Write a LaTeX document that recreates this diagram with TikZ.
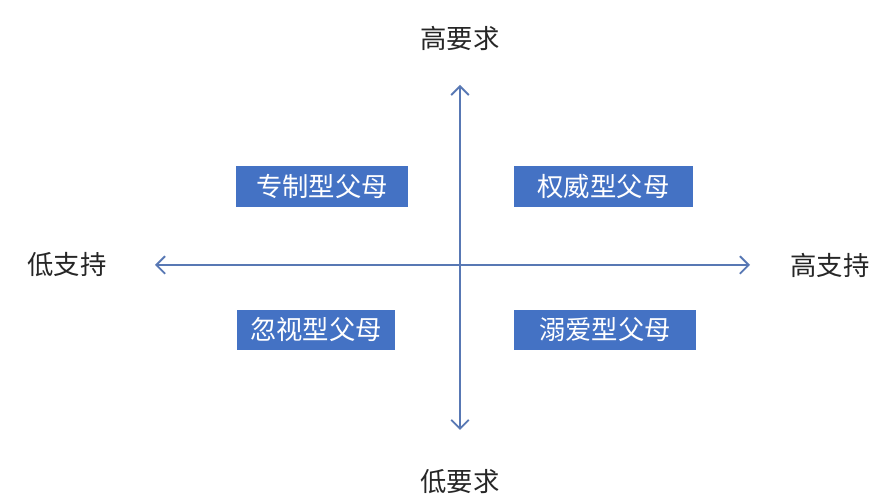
\documentclass[tikz,border=0pt]{standalone}
\usepackage{fontspec}
\usepackage{xcolor}
\newfontfamily\cjk{Noto Sans CJK SC}
\usetikzlibrary{positioning, arrows.meta}
\definecolor{boxblue}{HTML}{4472C4}
\definecolor{axisblue}{HTML}{5878B4}
\tikzset{
  typebox/.style={rectangle, fill=boxblue, draw=none, inner sep=0pt,
                  minimum height=0.82cm, text=white,
                  font=\cjk\fontsize{15pt}{18pt}\selectfont},
  axislabel/.style={text=black!85, font=\cjk\fontsize{15pt}{18pt}\selectfont},
  axisarr/.style={{Straight Barb[length=5pt,width=10pt]}-{Straight Barb[length=5pt,width=10pt]},
                  line width=1.1pt, draw=axisblue},
}
\begin{document}
\begin{tikzpicture}
  \fill[white] (0,0) rectangle (17.54,10);
  \useasboundingbox (0,0) rectangle (17.54,10);

  % axis ends
  \coordinate (top)    at (9.2,8.3);
  \coordinate (bottom) at (9.2,1.4);
  \coordinate (left)   at (3.1,4.7);
  \coordinate (right)  at (15.0,4.7);

  \draw[axisarr] (bottom) -- (top);
  \draw[axisarr] (left)   -- (right);

  \node[axislabel] (hidemand) at (9.2,9.24)  {高要求};
  \node[axislabel] (lodemand) at (9.2,0.36)  {低要求};
  \node[axislabel] (losupp)   at (1.34,4.7)  {低支持};
  \node[axislabel] (hisupp)   at (16.6,4.7)  {高支持};

  \node[typebox, minimum width=3.44cm] (auth)  at (6.44,6.27) {专制型父母};
  \node[typebox, minimum width=3.58cm] (autho) at (12.07,6.27) {权威型父母};
  \node[typebox, minimum width=3.16cm, minimum height=0.8cm] (negl) at (6.32,3.4) {忽视型父母};
  \node[typebox, minimum width=3.64cm, minimum height=0.8cm] (indu) at (12.1,3.4) {溺爱型父母};

\end{tikzpicture}
\end{document}
